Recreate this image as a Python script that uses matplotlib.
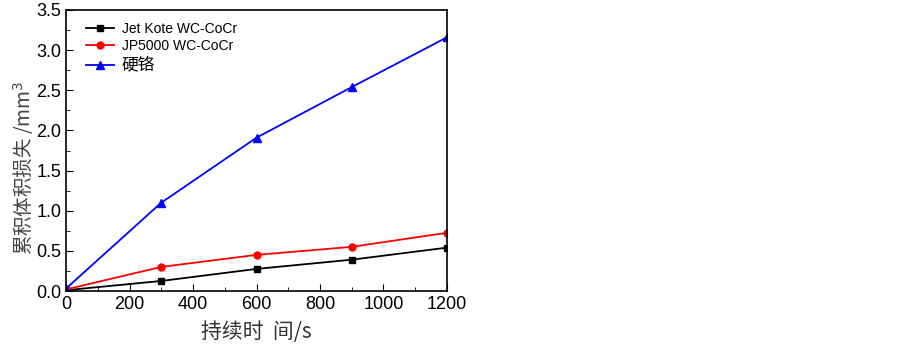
import matplotlib
matplotlib.use("Agg")
import matplotlib.pyplot as plt
from matplotlib.ticker import MultipleLocator

plt.rcParams['font.family'] = ['Liberation Sans', 'Noto Sans CJK SC', 'DejaVu Sans']

time_s = [0, 300, 600, 900, 1200]
jet_kote = [0.01, 0.125, 0.275, 0.39, 0.54]
jp5000 = [0.02, 0.30, 0.45, 0.55, 0.725]
hard_cr = [0.03, 1.10, 1.91, 2.54, 3.16]
labels = ['Jet Kote WC-CoCr', 'JP5000 WC-CoCr', '硬铬']

fig = plt.figure(figsize=(9.03, 3.46), dpi=100)
ax = fig.add_axes([66/903, 1-291/346, (447-66)/903, (291-10)/346])

ax.plot(time_s, jet_kote, color='black', marker='s', markersize=5, lw=1.3, label=labels[0])
ax.plot(time_s, jp5000, color='red', marker='o', markersize=5, lw=1.3, label=labels[1])
ax.plot(time_s, hard_cr, color='blue', marker='^', markersize=5.5, lw=1.3, label=labels[2])

ax.set_xlim(0, 1200)
ax.set_ylim(0, 3.5)
ax.xaxis.set_major_locator(MultipleLocator(200))
ax.xaxis.set_minor_locator(MultipleLocator(100))
ax.yaxis.set_major_locator(MultipleLocator(0.5))
ax.yaxis.set_minor_locator(MultipleLocator(0.25))
ax.yaxis.set_major_formatter(matplotlib.ticker.FormatStrFormatter('%.1f'))
ax.tick_params(which='both', direction='in', top=False, right=False, labelsize=13)
ax.tick_params(which='major', length=5)
ax.tick_params(which='minor', length=3)
for s in ax.spines.values():
    s.set_linewidth(1.2)

cjk = ['Noto Sans CJK SC', 'DejaVu Sans']
ax.set_xlabel('持续时  间/s', fontsize=15, family=cjk, color='#333333', labelpad=6)
ax.set_ylabel('累积体积损失 /mm$^3$', fontsize=14, family=cjk, color='#444444')
ax.yaxis.set_label_coords(-0.08, 0.44)

leg = ax.legend(loc='upper left', bbox_to_anchor=(0.052, 0.958), frameon=False,
                handlelength=2.0, handletextpad=0.6, borderpad=0, borderaxespad=0,
                labelspacing=0.25,
                prop={'family': ['Liberation Sans', 'Noto Sans CJK SC'], 'size': 10})
leg.get_texts()[2].set_fontsize(12)

fig.savefig('out.png', dpi=100)
